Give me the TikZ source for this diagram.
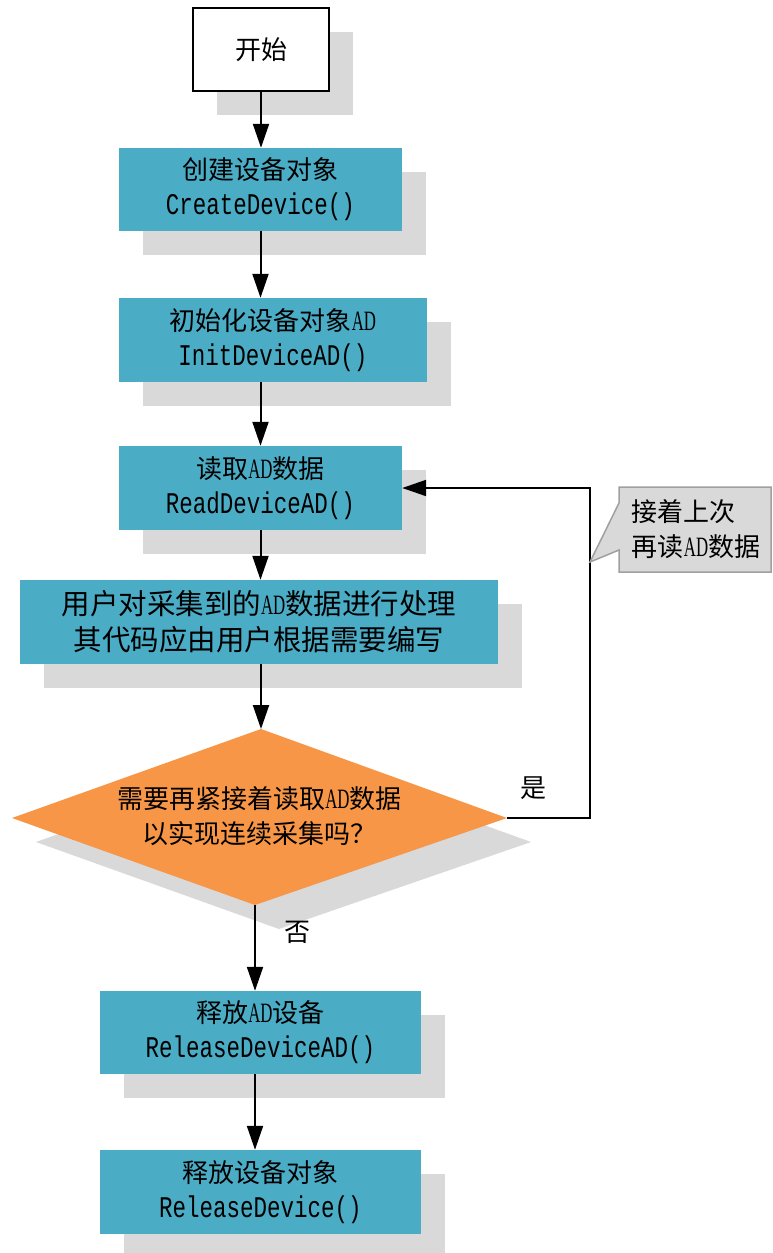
\documentclass[tikz,border=0pt]{standalone}
\usepackage{fontspec}
\newfontfamily\cjk{Noto Sans CJK SC}
\newfontfamily\monof[FakeStretch=0.75]{Liberation Mono}
\newfontfamily\adfont[FakeStretch=0.6]{Liberation Serif}
\usetikzlibrary{arrows.meta,shadows,calc}
\definecolor{boxteal}{HTML}{4BACC6}
\definecolor{boxorange}{HTML}{F79646}
\definecolor{shadowgray}{HTML}{D9D9D9}
\definecolor{notegray}{HTML}{D9D9D9}
\definecolor{noteborder}{HTML}{A0A0A0}
\newcommand\cjkfs{\cjk\fontsize{26}{35}\selectfont}
\newcommand\cjkbig{\cjk\fontsize{28.5}{36}\selectfont}
\newcommand\monofs{\monof\fontsize{30}{35}\selectfont}
\newcommand\AD{{\adfont\fontsize{28}{35}\selectfont AD}}
\tikzset{
  boxshadow/.style={general shadow={shadow xshift=24pt, shadow yshift=-24pt, fill=shadowgray, opacity=1}},
  procbox/.style={boxshadow, fill=boxteal, minimum width=283pt, minimum height=83pt, inner sep=0pt, align=center, font=\cjkfs},
  startbox/.style={boxshadow, fill=white, draw=black, line width=2pt, minimum width=136pt, minimum height=83pt, inner sep=0pt, font=\cjkfs},
  arr/.style={line width=2pt, -{Triangle[length=24pt,width=16pt]}},
  lbl/.style={font=\cjkfs, inner sep=0pt},
}
\begin{document}
\begin{tikzpicture}[x=1pt,y=-1pt]
\useasboundingbox (0,0) rectangle (772,1253);
% start
\node[startbox] (start) at (261,49.5) {开始};
% process boxes
\node[procbox] (b1) at (260.5,189.5) {创建设备对象\\\monofs CreateDevice()};
\node[procbox, minimum width=308pt, minimum height=84pt] (b2) at (273,340) {初始化设备对象\AD\\\monofs InitDeviceAD()};
\node[procbox, minimum height=84pt] (b3) at (260.5,488) {读取\AD 数据\\\monofs ReadDeviceAD()};
\node[procbox, minimum width=478pt, minimum height=84pt, font=\cjkbig] (b4) at (259,622) {用户对采集到的\AD 数据进行处理\\其代码应由用户根据需要编写};
% decision diamond
\coordinate (dtop) at (261,729);
\coordinate (dright) at (507,818);
\coordinate (dbot) at (255,905);
\coordinate (dleft) at (12,818);
\fill[shadowgray, shift={(24,24)}] (261,729) -- (507,818) -- (255,905) -- (12,818) -- cycle;
\fill[boxorange] (dtop) -- (dright) -- (dbot) -- (dleft) -- cycle;
\node[align=center, font=\cjkfs, inner sep=0pt] (dia) at (259.5,816) {需要再紧接着读取\AD 数据\\以实现连续采集吗？};
% release boxes
\node[procbox, minimum width=321pt, minimum height=83pt] (b5) at (260.5,1032.5) {释放\AD 设备\\\monofs ReleaseDeviceAD()};
\node[procbox, minimum width=321pt, minimum height=84pt] (b6) at (260.5,1192) {释放设备对象\\\monofs ReleaseDevice()};
% connectors
\draw[arr] (start.south) -- (start.south |- b1.north);
\draw[arr] (b1.south) -- (b1.south |- b2.north);
\draw[arr] (b3.north |- b2.south) -- (b3.north);
\draw[arr] (b3.south) -- (b3.south |- b4.north);
\draw[arr] (dtop |- b4.south) -- (dtop);
\draw[arr] (dbot) -- (dbot |- b5.north);
\draw[arr] (dbot |- b5.south) -- (dbot |- b6.north);
\coordinate (turn) at (590,818);
\draw[arr] (dright) -- (turn) |- (b3.east);
% labels
\node[lbl] (yes) at (533,788) {是};
\node[lbl] (no) at (297,932) {否};
% callout
\coordinate (tip) at (590,562);
\filldraw[fill=notegray, draw=noteborder, line width=1.5pt, line join=miter]
  (619,487) -- (771,487) -- (771,572) -- (619,572) -- (619,550) -- (tip) -- (619,503) -- cycle;
\node[align=left, font=\cjkfs, inner sep=0pt] (note) at (696,529.5) {接着上次\\再读\AD 数据};
\end{tikzpicture}
\end{document}
